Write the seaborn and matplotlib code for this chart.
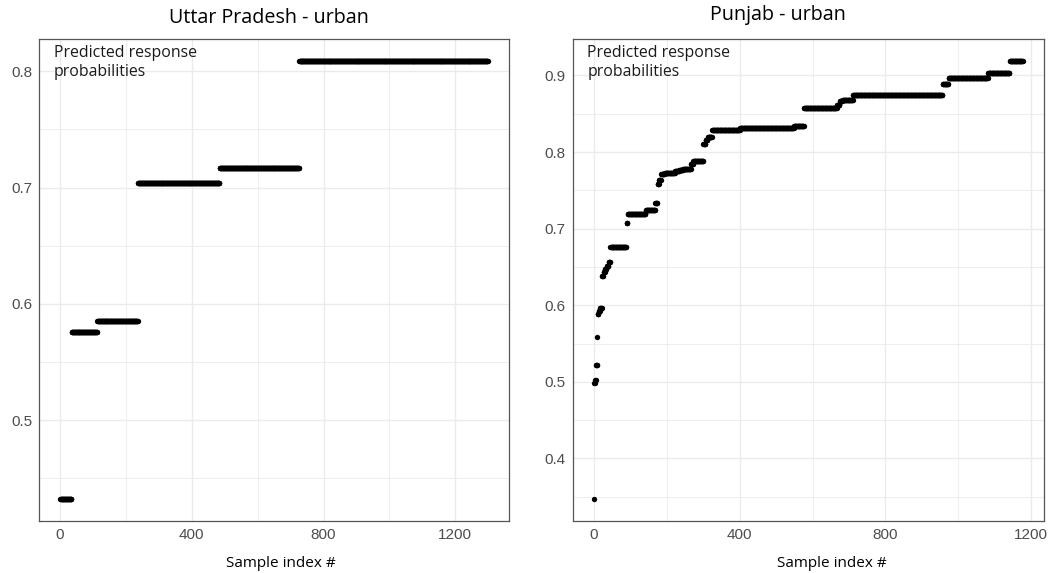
import numpy as np
import pandas as pd
import matplotlib
matplotlib.use("Agg")
import matplotlib.pyplot as plt
from matplotlib.ticker import MultipleLocator, FormatStrFormatter
import seaborn as sns


# Uttar Pradesh - urban: step values and how many samples sit on each step
up_values = [0.432, 0.576, 0.585, 0.704, 0.717, 0.809]
up_counts = [34, 78, 124, 248, 241, 573]

# Punjab - urban
pb_values = [0.347, 0.499, 0.502, 0.522, 0.559, 0.589, 0.592, 0.596,
             0.638, 0.643, 0.647, 0.651, 0.656, 0.676, 0.707, 0.719,
             0.724, 0.734, 0.758, 0.763, 0.771, 0.772, 0.775, 0.777,
             0.778, 0.784, 0.788, 0.811, 0.816, 0.819, 0.829, 0.832,
             0.834, 0.857, 0.858, 0.862, 0.866, 0.868, 0.875, 0.889,
             0.896, 0.903, 0.919]
pb_counts = [1, 2, 2, 4, 1, 3, 3, 6,
             4, 4, 5, 5, 5, 44, 3, 50,
             26, 6, 4, 6, 10, 28, 12, 10,
             22, 6, 28, 6, 6, 12, 76, 148,
             28, 50, 40, 8, 8, 28, 246, 16,
             108, 60, 36]

titles = ["Uttar Pradesh - urban", "Punjab - urban"]
x_ticks = [0, 400, 800, 1200]
annot = "Predicted response\nprobabilities"


def expand(values, counts):
    y = np.repeat(values, counts)
    return pd.DataFrame({"idx": np.arange(1, len(y) + 1), "prob": y})


sns.set_theme(style="whitegrid")
plt.rcParams["font.family"] = ["Open Sans", "DejaVu Sans"]
plt.rcParams["text.color"] = "black"

fig = plt.figure(figsize=(10.49, 5.73), dpi=100)
ax_up = fig.add_axes([0.0372, 0.0908, 0.4480, 0.8412])
ax_pb = fig.add_axes([0.5459, 0.0908, 0.4493, 0.8412])

panels = [(ax_up, expand(up_values, up_counts)),
          (ax_pb, expand(pb_values, pb_counts))]

for ax, df in panels:
    sns.scatterplot(data=df, x="idx", y="prob", ax=ax, color="black",
                    s=15, linewidth=0, legend=False)
    # ggplot style 5% expansion
    xr = df["idx"].max() - df["idx"].min()
    yr = df["prob"].max() - df["prob"].min()
    ax.set_xlim(df["idx"].min() - 0.05 * xr, df["idx"].max() + 0.05 * xr)
    ax.set_ylim(df["prob"].min() - 0.05 * yr, df["prob"].max() + 0.05 * yr)
    ax.set_xticks(x_ticks)
    ax.xaxis.set_minor_locator(MultipleLocator(200))
    ax.yaxis.set_major_locator(MultipleLocator(0.1))
    ax.yaxis.set_minor_locator(MultipleLocator(0.05))
    ax.yaxis.set_major_formatter(FormatStrFormatter("%.1f"))
    ax.grid(True, which="major", color="#EBEBEB", linewidth=1.0)
    ax.grid(True, which="minor", color="#EBEBEB", linewidth=0.6)
    ax.set_xlabel("")
    ax.set_ylabel("")
    for sp in ax.spines.values():
        sp.set_color("#555555")
        sp.set_linewidth(0.9)
    ax.tick_params(which="major", length=3, width=0.8, color="#333333",
                   labelsize=11, labelcolor="#4D4D4D", pad=2,
                   labelfontfamily="Liberation Sans")
    ax.tick_params(which="minor", length=0)
    ax.text(0.031, 0.988, annot, transform=ax.transAxes, ha="left", va="top",
            fontsize=11.4, color="#1a1a1a", linespacing=1.3)

fig.text(0.256, 0.968, titles[0], ha="center", va="center", fontsize=14.2)
fig.text(0.742, 0.973, titles[1], ha="center", va="center", fontsize=14.2)
fig.text(0.268, 0.017, "Sample index #", ha="center", va="center", fontsize=11)
fig.text(0.793, 0.017, "Sample index #", ha="center", va="center", fontsize=11)

fig.savefig("out.png", dpi=100, facecolor="white")
